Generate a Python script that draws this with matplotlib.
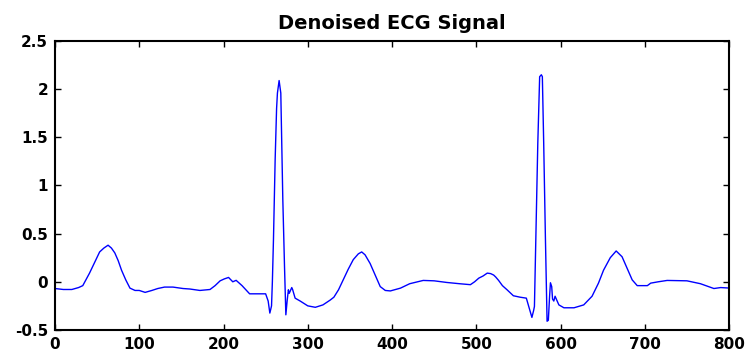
import matplotlib
matplotlib.use("Agg")
import matplotlib.pyplot as plt

muestras = [0, 10, 20, 28, 33, 41, 47, 53, 58, 63, 67, 71, 75, 79, 84, 89, 95, 100,
            107, 115, 122, 130, 140, 152, 160, 172, 184, 190, 196, 201, 206, 211, 215,
            222, 231, 240, 250, 253, 255, 257, 258, 259.3, 261.3, 263, 264, 266, 268,
            270.4, 272.4, 274, 275.5, 277, 278, 279.5, 281, 282, 285, 291, 300, 309,
            318, 326.6, 331, 336.5, 342, 348, 354, 360, 364, 368, 374, 380, 386, 392,
            398, 410, 421, 437, 450, 465, 480, 493, 498, 503, 508, 513, 517, 520.6,
            523, 526.5, 531, 536.5, 544, 552, 559.4, 562, 566, 568, 569, 571, 573,
            575.2, 577.2, 578.4, 580, 582, 584, 585.5, 587, 588, 589.5, 590.5, 592,
            593.5, 595, 598, 604, 616, 627.5, 637.4, 645, 651, 659, 666, 673, 679,
            685, 691, 703, 707, 716, 726.5, 750, 766, 782, 790, 800]
amplitud = [-0.07, -0.08, -0.08, -0.06, -0.04, 0.09, 0.2, 0.31, 0.35, 0.38, 0.35, 0.30,
            0.22, 0.12, 0.02, -0.066, -0.09, -0.09, -0.11, -0.09, -0.07, -0.055, -0.055,
            -0.07, -0.075, -0.09, -0.08, -0.04, 0.01, 0.03, 0.045, 0.0, 0.015, -0.04,
            -0.125, -0.125, -0.125, -0.2, -0.325, -0.25, 0.0, 0.44, 1.27, 1.8, 1.96,
            2.09, 1.96, 0.85, 0.16, -0.343, -0.2, -0.083, -0.12, -0.09, -0.06, -0.08,
            -0.17, -0.2, -0.25, -0.265, -0.24, -0.19, -0.16, -0.083, 0.02, 0.13, 0.23,
            0.29, 0.31, 0.28, 0.19, 0.07, -0.05, -0.09, -0.095, -0.066, -0.02, 0.014,
            0.01, -0.007, -0.02, -0.03, 0.0, 0.038, 0.06, 0.09, 0.085, 0.07, 0.05,
            0.014, -0.04, -0.083, -0.145, -0.16, -0.17, -0.25, -0.37, -0.3, -0.256,
            0.57, 1.44, 2.13, 2.15, 2.13, 1.44, 0.47, -0.41, -0.4, -0.15, -0.01, -0.05,
            -0.18, -0.2, -0.15, -0.18, -0.24, -0.27, -0.27, -0.24, -0.15, -0.014, 0.12,
            0.25, 0.32, 0.26, 0.14, 0.02, -0.04, -0.04, -0.014, 0.0, 0.014, 0.01, -0.02,
            -0.07, -0.06, -0.065]

xticks = [0, 100, 200, 300, 400, 500, 600, 700, 800]
yticks = [-0.5, 0, 0.5, 1, 1.5, 2, 2.5]
yticklabels = ["-0.5", "0", "0.5", "1", "1.5", "2", "2.5"]

plt.rcParams["font.family"] = ["DejaVu Sans"]

fig = plt.figure(figsize=(7.49, 3.54), dpi=100)
ax = fig.add_axes([0.0734, 0.068, 0.900, 0.816])

ax.plot(muestras, amplitud, color="#0000ff", linewidth=1.0)

ax.set_xlim(0, 800)
ax.set_ylim(-0.5, 2.5)
ax.set_xticks(xticks)
ax.set_xticklabels([str(t) for t in xticks])
ax.set_yticks(yticks)
ax.set_yticklabels(yticklabels)
ax.tick_params(direction="in", top=True, right=True, length=4, width=1, pad=5)
for lbl in ax.get_xticklabels() + ax.get_yticklabels():
    lbl.set_fontweight("bold")
    lbl.set_fontsize(11)
for s in ax.spines.values():
    s.set_linewidth(1.5)

ax.set_title("Denoised ECG Signal", fontsize=14, fontweight="bold", pad=9)

fig.savefig("out.png", dpi=100)
